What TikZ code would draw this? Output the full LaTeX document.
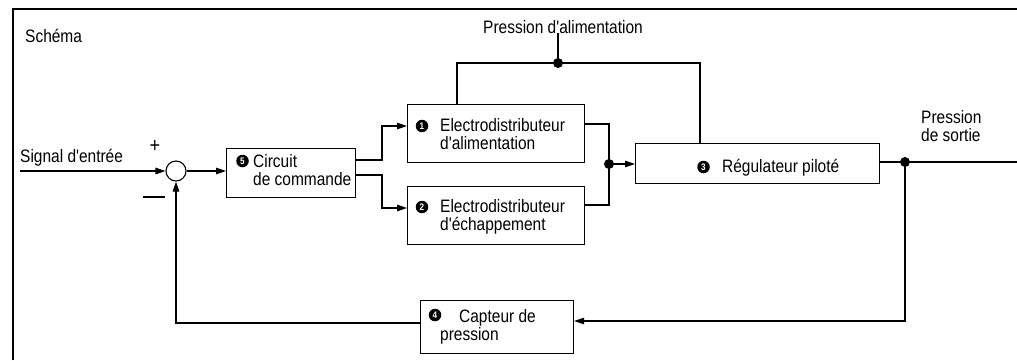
\documentclass[tikz,border=0pt]{standalone}
\usepackage{fontspec}
\setmainfont[FakeStretch=0.86,Ligatures=TeXOff]{Liberation Sans}
\usetikzlibrary{arrows.meta}
\begin{document}
\begin{tikzpicture}[x=1pt,y=-1pt,
  box/.style={draw,line width=1.1pt,anchor=north west,inner sep=0pt},
  lbl/.style={inner sep=0pt,align=left,font=\fontsize{18}{18.5}\selectfont},
  numc/.style={circle,fill=black,inner sep=0pt,minimum size=12.5pt,text=white,font=\fontsize{9.5}{9.5}\selectfont\bfseries},
  conn/.style={line width=1.1pt},
  arr/.style={conn,-{Triangle[length=10pt,width=6.5pt]}},
  dot/.style={circle,fill=black,inner sep=0pt,minimum size=10pt},
]
\useasboundingbox (0,0) rectangle (1017,360);
\fill[white] (0,0) rectangle (1017,360);
\draw[line width=1.4pt] (13,360) -- (13,9) -- (1017,9);

% boxes
\node[box,minimum width=129pt,minimum height=49pt] (b5) at (226,148) {};
\node[box,minimum width=177pt,minimum height=58pt] (b1) at (407,104) {};
\node[box,minimum width=177pt,minimum height=58pt] (b2) at (407,186) {};
\node[box,minimum width=244pt,minimum height=40pt] (b3) at (635,143) {};
\node[box,minimum width=153pt,minimum height=53pt] (b4) at (420,300) {};
\node[draw,circle,line width=1.1pt,minimum size=20pt,inner sep=0pt] (sum) at (176,171) {};

% texts
\node[lbl,anchor=base west] (tschema) at (25,42) {Schéma};
\node[lbl,anchor=base west] (tsig) at (20,162) {Signal d'entrée};
\node[lbl,anchor=base] (palim) at (563,33) {Pression d'alimentation};
\node[lbl,anchor=north west] (psort) at (921,110) {Pression\\de sortie};
\node[lbl,font=\fontsize{21}{21}\selectfont] (plus) at (155,146) {+};
\node[inner sep=0pt] (minus) at (153.5,197) {\rule{22pt}{2pt}};

\node[lbl,anchor=north west] (t5) at (253,154) {Circuit\\de commande};
\node[lbl,anchor=north west] (t1) at (440,118) {Electrodistributeur\\d'alimentation};
\node[lbl,anchor=north west] (t2) at (440,199) {Electrodistributeur\\d'échappement};
\node[lbl,anchor=base west] (t3) at (722,172) {Régulateur piloté};
\node[lbl,anchor=north west] (t4) at (440,309) {\hspace{19pt}Capteur de\\pression};

\node[numc] (n5) at (242.5,161) {5};
\node[numc] (n1) at (422,126) {1};
\node[numc] (n2) at (422,207) {2};
\node[numc] (n3) at (703.5,167) {3};
\node[numc] (n4) at (435,315) {4};

% junction dots
\node[dot] (jd) at (609,164) {};
\node[dot] (pd) at (558,63) {};
\node[dot] (od) at (905,162) {};
\coordinate (inp) at (20,171);
\coordinate (outR) at (1017,162);

% connectors
\draw[arr] (inp) -- (sum.west);
\draw[arr] (sum.east) -- (sum.east -| b5.west);
\draw[arr] (b5.east |- 0,160) -- (382,160) |- (b1.west |- 0,126);
\draw[arr] (b5.east |- 0,175) -- (382,175) |- (b2.west |- 0,208);
\draw[conn] (b1.east |- 0,124) -| (jd.center);
\draw[conn] (b2.east |- 0,205) -| (jd.center);
\draw[arr] (jd.center) -- (jd -| b3.west);
\draw[conn] (b1.north -| 457,0) |- (pd.center) -| (b3.north -| 700,0);
\draw[conn] (pd.center) -- (pd |- palim.south);
\draw[conn] (b3.east |- 0,162) -- (outR);
\draw[arr] (od.center) |- (b4.east |- 0,321);
\draw[arr] (b4.west |- 0,323) -| (sum.south);
\end{tikzpicture}
\end{document}
